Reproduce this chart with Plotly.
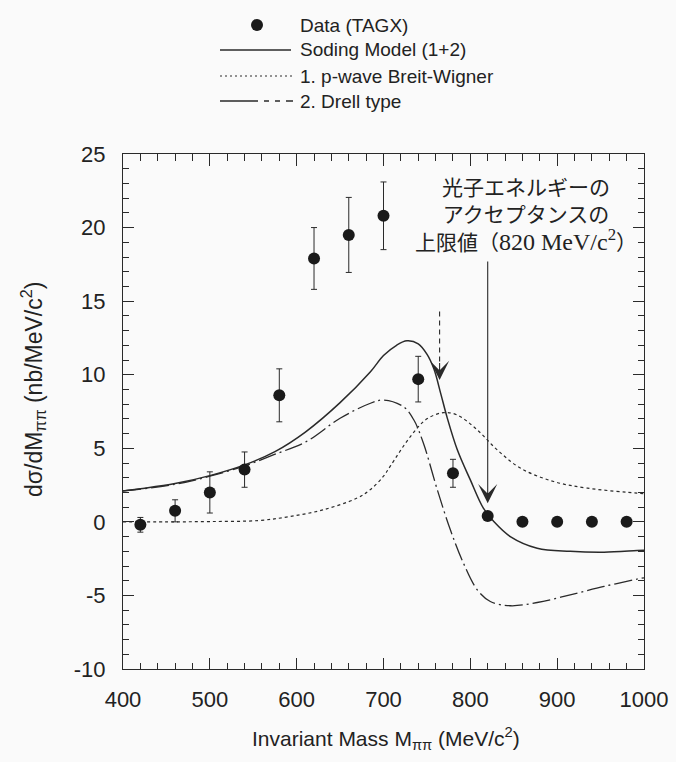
import plotly.graph_objects as go

# Measured cross section (TAGX)
mass_data = [420, 460, 500, 540, 580, 620, 660, 700, 740, 780, 820, 860, 900, 940, 980]
xsec_data = [-0.2, 0.75, 2.0, 3.55, 8.6, 17.9, 19.5, 20.8, 9.7, 3.3, 0.4, 0.0, 0.0, 0.0, 0.0]
xsec_err = [0.5, 0.75, 1.4, 1.2, 1.8, 2.1, 2.55, 2.3, 1.55, 0.95, 0.0, 0.0, 0.0, 0.0, 0.0]

# Soding model total (1+2)
mass_total = [400, 420, 460, 500, 540, 575, 610, 650, 685, 700, 715, 727, 740, 750,
              758, 766, 773, 785, 800, 815, 827, 846, 877, 915, 954, 992, 1000]
xsec_total = [2.1, 2.25, 2.6, 3.14, 3.87, 4.77, 6.1, 8.1, 10.2, 11.3, 12.0, 12.3, 12.1,
              11.4, 10.4, 8.7, 7.15, 4.9, 2.85, 0.93, 0.02, -1.0, -1.79, -2.0, -2.06, -1.95, -1.93]

# 1. p-wave Breit-Wigner
mass_bw = [400, 450, 500, 556, 592, 630, 669, 685, 700, 708, 731, 750, 769, 785, 808,
           831, 858, 896, 935, 992, 1000]
xsec_bw = [0.0, 0.0, 0.02, 0.09, 0.36, 0.81, 1.6, 2.2, 3.1, 3.8, 5.8, 7.0, 7.42, 7.26,
           6.25, 4.89, 3.64, 2.74, 2.29, 1.95, 1.92]

# 2. Drell type
mass_drell = [400, 460, 500, 540, 573, 611, 650, 685, 700, 723, 735, 746, 762, 777, 792,
              808, 823, 846, 877, 915, 954, 992, 1000]
xsec_drell = [2.1, 2.55, 3.1, 3.8, 4.55, 5.45, 7.04, 8.06, 8.28, 7.83, 6.92, 5.34, 2.17,
              -0.54, -2.8, -4.62, -5.41, -5.7, -5.48, -4.96, -4.39, -3.89, -3.8]

x_ticks = [400, 500, 600, 700, 800, 900, 1000]
x_tick_text = ["400", "500", "600", "700", "800", "900", "1000"]
y_ticks = [-10, -5, 0, 5, 10, 15, 20, 25]
y_tick_text = ["-10", "-5", "0", "5", "10", "15", "20", "25"]

legend_labels = ["Data (TAGX)", "Soding Model (1+2)", "1. p-wave Breit-Wigner", "2. Drell type"]

INK = "#2a2a2a"
SANS = "Liberation Sans, Arial, Helvetica, sans-serif"
SERIF = "Liberation Serif, Times New Roman, serif"
CJK = "Noto Sans CJK JP, sans-serif"

fig = go.Figure()

fig.add_trace(go.Scatter(x=mass_bw, y=xsec_bw, mode="lines", line_shape="spline",
                         line=dict(color=INK, width=1.2, dash="3px,3px"), showlegend=False))
fig.add_trace(go.Scatter(x=mass_drell, y=xsec_drell, mode="lines", line_shape="spline",
                         line=dict(color=INK, width=1.3, dash="18px,4px,2px,4px"), showlegend=False))
fig.add_trace(go.Scatter(x=mass_total, y=xsec_total, mode="lines", line_shape="spline",
                         line=dict(color=INK, width=1.5), showlegend=False))
fig.add_trace(go.Scatter(x=mass_data, y=xsec_data, mode="markers",
                         marker=dict(color="#1a1a1a", size=12),
                         error_y=dict(type="data", array=xsec_err, visible=True,
                                      color=INK, thickness=1, width=3),
                         showlegend=False))
# invisible trace that carries the top/right tick axes
fig.add_trace(go.Scatter(x=[mass_data[0]], y=[xsec_data[0]], xaxis="x2", yaxis="y2",
                         mode="markers", marker=dict(opacity=0), showlegend=False,
                         hoverinfo="skip"))

tick_style = dict(ticks="inside", ticklen=11, tickwidth=1.2, tickcolor=INK,
                  showgrid=False, zeroline=False, automargin=False)
x_minor = dict(dtick=20, ticks="inside", ticklen=6, tickcolor=INK, tickwidth=1)
y_minor = dict(dtick=1, ticks="inside", ticklen=6, tickcolor=INK, tickwidth=1)
label_font = dict(family=SANS, size=22, color="#222")

fig.update_layout(
    xaxis=dict(range=[400, 1000], tickvals=x_ticks, ticktext=x_tick_text, ticklabelstandoff=10,
               showline=True, linecolor=INK, linewidth=1.3, mirror="allticks",
               minor=x_minor, tickfont=label_font, **tick_style),
    yaxis=dict(range=[-10, 25], tickvals=y_ticks, ticktext=y_tick_text, ticklabelstandoff=12,
               showline=True, linecolor=INK, linewidth=1.3, mirror="allticks",
               minor=y_minor, tickfont=label_font, **tick_style),
    xaxis2=dict(range=[400, 1000], tickvals=x_ticks, overlaying="x", side="top",
                anchor="free", position=1, showticklabels=False, showline=False,
                minor=x_minor, **tick_style),
    yaxis2=dict(range=[-10, 25], tickvals=y_ticks, overlaying="y", side="right",
                anchor="free", position=1, showticklabels=False, showline=False,
                minor=y_minor, **tick_style),
)

W, H = 676, 762
L, R, T, B = 123, 32, 154, 93
pw, ph = W - L - R, H - T - B


def px(xp):
    return (xp - L) / pw


def py(yp):
    return (H - B - yp) / ph


annotations = []
shapes = []

# Axis titles
annotations.append(dict(xref="paper", yref="paper", x=px(386), y=py(738),
                        text="Invariant Mass M<sub>ππ</sub> (MeV/c<sup>2</sup>)",
                        showarrow=False, font=dict(family=SANS, size=21, color="#222"),
                        xanchor="center", yanchor="middle"))
annotations.append(dict(xref="paper", yref="paper", x=px(33), y=py(390),
                        text="dσ/dM<sub>ππ</sub> (nb/MeV/c<sup>2</sup>)", textangle=-90,
                        showarrow=False, font=dict(family=SANS, size=23, color="#222"),
                        xanchor="center", yanchor="middle"))

# Legend drawn above the frame
rows = [25, 50, 76, 101]
text_x = 298
for label, r in zip(legend_labels, rows):
    annotations.append(dict(xref="paper", yref="paper", x=px(text_x), y=py(r), text=label,
                            showarrow=False, xanchor="left", yanchor="middle",
                            font=dict(family=SANS, size=19, color="#222")))
shapes.append(dict(type="circle", xref="paper", yref="paper",
                   x0=px(251), x1=px(263), y0=py(rows[0] + 6), y1=py(rows[0] - 6),
                   fillcolor="#1a1a1a", line=dict(width=0)))
shapes.append(dict(type="line", xref="paper", yref="paper", x0=px(220), x1=px(291),
                   y0=py(rows[1]), y1=py(rows[1]), line=dict(color=INK, width=1.3)))
shapes.append(dict(type="line", xref="paper", yref="paper", x0=px(220), x1=px(293),
                   y0=py(rows[2]), y1=py(rows[2]), line=dict(color=INK, width=1.1, dash="2px,3px")))
shapes.append(dict(type="line", xref="paper", yref="paper", x0=px(220), x1=px(293),
                   y0=py(rows[3]), y1=py(rows[3]), line=dict(color=INK, width=1.3, dash="38px,6px,5px,6px,5px,6px")))

# Upper limit of the photon-energy acceptance
note_text = ("光子エネルギーの<br>アクセプタンスの<br>上限値（<span style='font-family:" + SERIF +
             ";font-size:24px'>820 MeV/c<sup>2</sup></span>）")
annotations.append(dict(x=864, y=20.95, text=note_text, showarrow=False, align="center",
                        font=dict(family=CJK, size=21, color="#222"),
                        xanchor="center", yanchor="middle"))

annotations.append(dict(x=820, y=1.27, ax=820, ay=17.8, axref="x", ayref="y", text="",
                        showarrow=True, arrowhead=3, arrowsize=2.9, arrowwidth=1.1, arrowcolor=INK))

# Dashed pointer
shapes.append(dict(type="line", x0=764.6, x1=764.6, y0=14.3, y1=10.8,
                   line=dict(color=INK, width=1.1, dash="5px,4px")))
annotations.append(dict(x=764.6, y=9.64, ax=764.6, ay=10.9, axref="x", ayref="y", text="",
                        showarrow=True, arrowhead=3, arrowsize=2.9, arrowwidth=1.1, arrowcolor=INK))

fig.update_layout(
    width=W, height=H,
    margin=dict(l=L, r=R, t=T, b=B, pad=0, autoexpand=False),
    paper_bgcolor="#fafafa", plot_bgcolor="#fafafa",
    annotations=annotations, shapes=shapes,
    showlegend=False,
)

fig.write_html("out.html")
